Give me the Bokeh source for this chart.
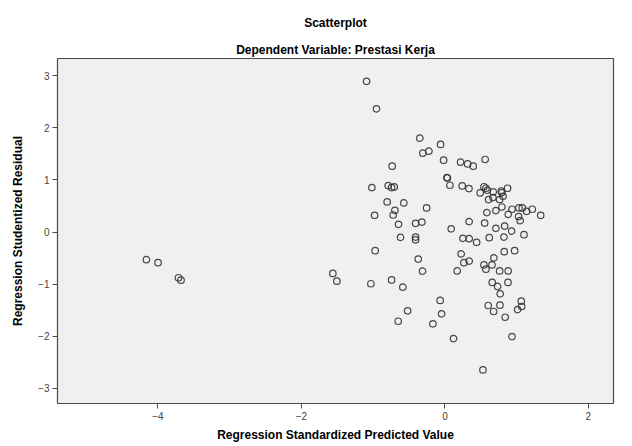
from bokeh.plotting import figure
from bokeh.models import Title, FixedTicker
from bokeh.embed import file_html
from bokeh.resources import INLINE

# Regression Standardized Predicted Value
pred_x = [
    -1.092, -0.953, -0.349, -0.060, -0.307, -0.223, -0.018, 0.219, 0.317, -0.735,
    0.028, 0.035, 0.070, 0.241, 0.335, -1.018, -0.791, -0.743, -0.707, -0.805,
    -0.572, -0.697, -0.721, -0.980, -0.255, -0.646, -0.409, -0.321, 0.088, 0.339,
    -0.618, -0.409, -0.409, 0.251, 0.339, -0.972, -0.372, 0.227, 0.265, 0.339,
    -0.311, 0.172, -1.562, -1.506, -1.032, -0.743, -0.586, -0.066, -0.520, -0.046,
    -0.651, -0.167, 0.121, -4.160, -3.999, -3.714, -3.678, 0.395, 0.562, 0.544,
    0.572, 0.593, 0.492, 0.674, 0.785, 0.795, 0.874, 0.609, 0.669, 0.763,
    0.809, 0.795, 0.934, 1.032, 1.078, 1.139, 1.218, 1.335, 0.883, 1.028,
    1.050, 0.586, 0.711, 0.554, 0.711, 0.833, 0.930, 1.102, 0.442, 0.618,
    0.823, 0.827, 0.972, 0.683, 0.544, 0.656, 0.572, 0.763, 0.883, 0.660,
    0.735, 0.879, 0.771, 0.604, 0.767, 0.679, 1.064, 1.070, 1.014, 0.841,
    0.934, 0.530,
]

# Regression Studentized Residual
resid_y = [
    2.892, 2.365, 1.802, 1.681, 1.513, 1.552, 1.379, 1.340, 1.308, 1.263,
    1.046, 1.037, 0.898, 0.885, 0.835, 0.854, 0.892, 0.854, 0.865, 0.577,
    0.558, 0.417, 0.327, 0.321, 0.462, 0.148, 0.167, 0.192, 0.062, 0.200,
    -0.102, -0.096, -0.150, -0.121, -0.127, -0.358, -0.519, -0.419, -0.588, -0.558,
    -0.750, -0.746, -0.794, -0.942, -0.992, -0.919, -1.058, -1.313, -1.512, -1.569,
    -1.712, -1.762, -2.044, -0.531, -0.588, -0.877, -0.923, 1.263, 1.392, 0.869,
    0.840, 0.802, 0.750, 0.769, 0.788, 0.758, 0.840, 0.623, 0.662, 0.623,
    0.687, 0.481, 0.437, 0.462, 0.462, 0.398, 0.437, 0.321, 0.340, 0.296,
    0.219, 0.373, 0.412, 0.173, 0.071, 0.115, 0.019, -0.050, -0.198, -0.108,
    -0.096, -0.377, -0.358, -0.496, -0.631, -0.631, -0.713, -0.746, -0.746, -0.967,
    -1.044, -0.967, -1.185, -1.410, -1.404, -1.525, -1.327, -1.429, -1.487, -1.635,
    -2.006, -2.646,
]

x_ticks = [-4, -2, 0, 2]
y_ticks = [-3, -2, -1, 0, 1, 2, 3]

FONT = "Liberation Sans"

p = figure(
    width=624, height=445,
    x_range=(-5.40, 2.35), y_range=(-3.29, 3.33),
    output_backend="svg", toolbar_location=None,
    min_border_left=57, min_border_right=11, min_border_bottom=42, min_border_top=58,
    background_fill_color="#f0f0f0", border_fill_color="white",
    outline_line_color="#4a4a4a", outline_line_width=1.2,
    x_axis_label="Regression Standardized Predicted Value",
    y_axis_label="Regression Studentized Residual",
)

p.title.text = "Scatterplot"
p.title.align = "center"
p.title.text_font = FONT
p.title.text_font_size = "12px"
p.title.text_font_style = "bold"
p.title.text_color = "black"
p.title.standoff = 18

t2 = Title(text="Dependent Variable: Prestasi Kerja", align="center", text_font=FONT,
           text_font_size="12px", text_font_style="bold", text_color="black",
           standoff=4)
p.add_layout(t2, "above")

p.xgrid.visible = False
p.ygrid.visible = False

for ax, ticks in ((p.xaxis, x_ticks), (p.yaxis, y_ticks)):
    ax.ticker = FixedTicker(ticks=ticks)
    ax.minor_tick_line_color = None
    ax.major_tick_in = 0
    ax.major_tick_out = 5
    ax.major_tick_line_color = "#4a4a4a"
    ax.axis_line_color = "#4a4a4a"
    ax.major_label_text_font = FONT
    ax.major_label_text_font_size = "10px"
    ax.major_label_text_color = "#444444"
    ax.axis_label_text_font = FONT
    ax.axis_label_text_font_size = "12px"
    ax.axis_label_text_font_style = "bold"
    ax.axis_label_text_color = "black"

p.xaxis.major_label_standoff = 3
p.xaxis.axis_label_standoff = 5
p.yaxis.major_label_standoff = 3
p.yaxis.axis_label_standoff = 10

p.scatter(pred_x, resid_y, marker="circle", size=6.5, fill_color=None,
          line_color="#333333", line_width=1.2, line_alpha=0.9)

open("out.html", "w").write(file_html(p, INLINE))
